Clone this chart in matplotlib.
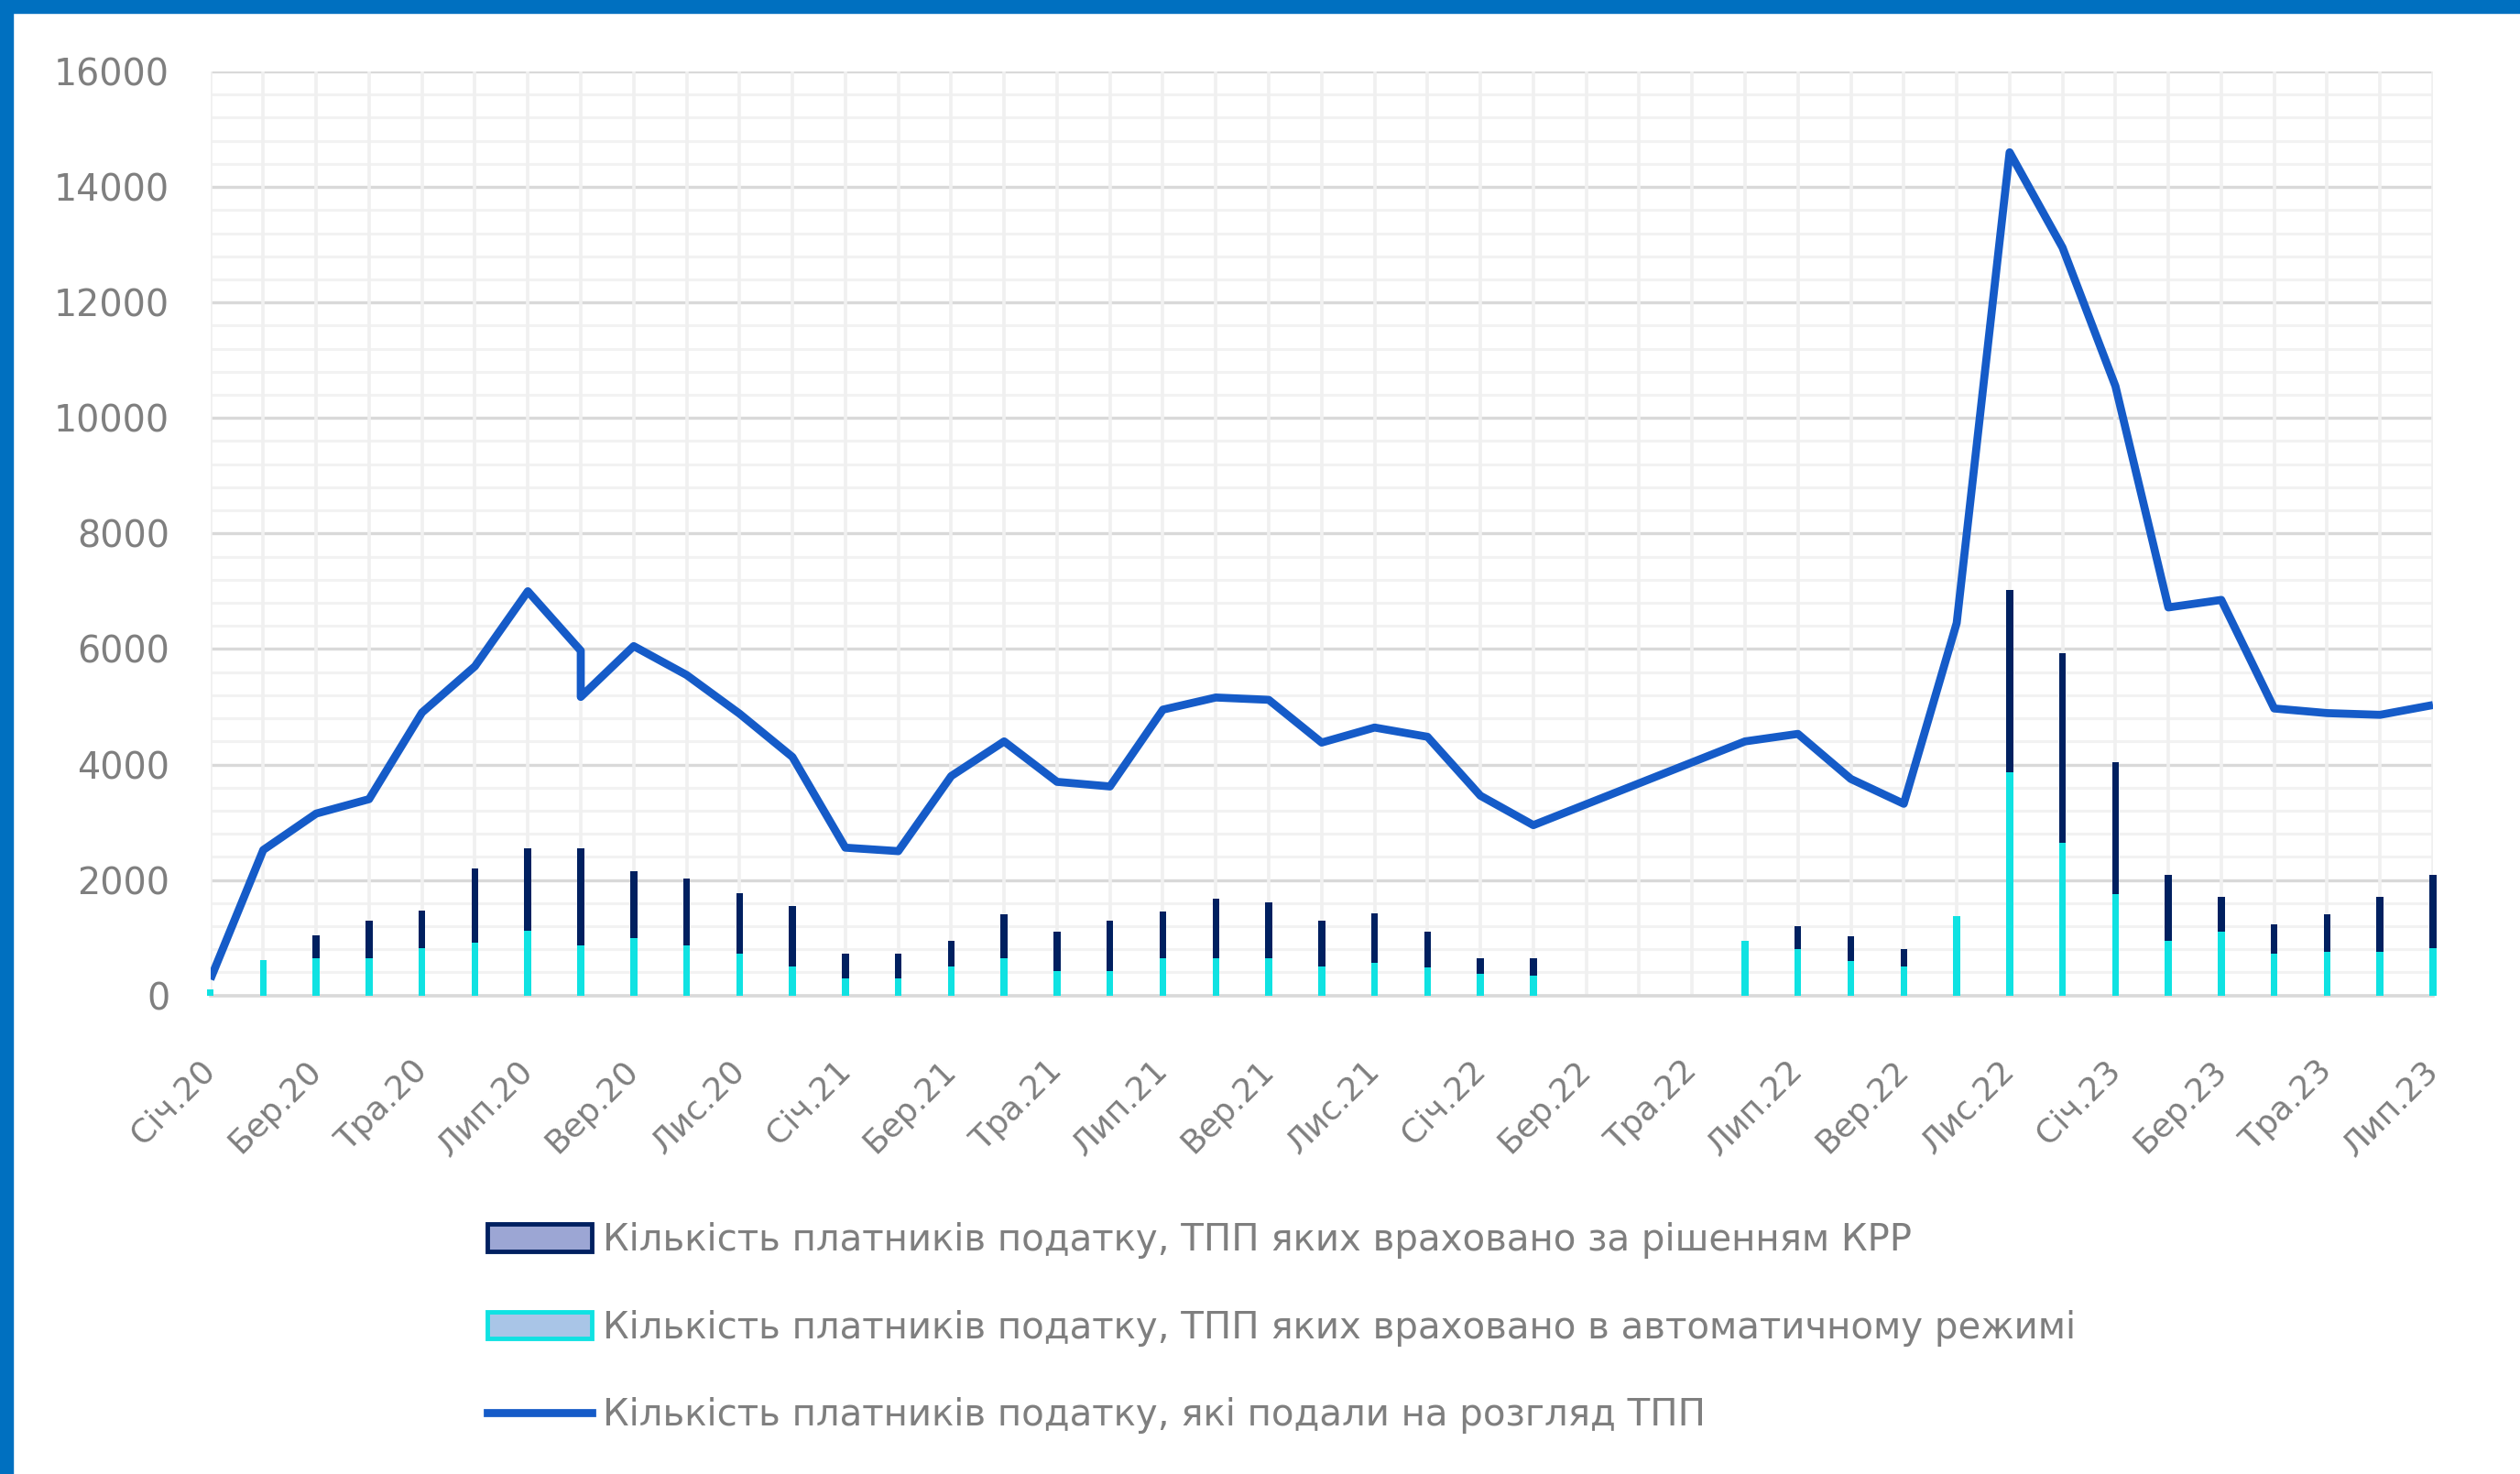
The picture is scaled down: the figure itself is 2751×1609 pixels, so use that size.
import matplotlib
matplotlib.use('Agg')
import matplotlib.pyplot as plt
import matplotlib.patches as mpatches
from matplotlib.lines import Line2D
from matplotlib.ticker import MultipleLocator

plt.rcParams['font.family'] = ['DejaVu Sans']

# ---------------- data ----------------
months = ['Січ.20', 'Лют.20', 'Бер.20', 'Кві.20', 'Тра.20', 'Чер.20', 'Лип.20', 'Сер.20', 'Вер.20', 'Жов.20', 'Лис.20', 'Гру.20',
          'Січ.21', 'Лют.21', 'Бер.21', 'Кві.21', 'Тра.21', 'Чер.21', 'Лип.21', 'Сер.21', 'Вер.21', 'Жов.21', 'Лис.21', 'Гру.21',
          'Січ.22', 'Лют.22', 'Бер.22', 'Кві.22', 'Тра.22', 'Чер.22', 'Лип.22', 'Сер.22', 'Вер.22', 'Жов.22', 'Лис.22', 'Гру.22',
          'Січ.23', 'Лют.23', 'Бер.23', 'Кві.23', 'Тра.23', 'Чер.23', 'Лип.23']

# taxpayers whose TPP was accounted by KRR decision (navy)
krr = [0, 600, 1040, 1300, 1470, 2200, 2550, 2550, 2160, 2030, 1770, 1550,
       720, 720, 940, 1410, 1110, 1290, 1460, 1680, 1620, 1290, 1420, 1110,
       640, 640, 0, 0, 0, 0, 1200, 1030, 810, 1030, 7030, 5920,
       4040, 2090, 1710, 1230, 1400, 1710, 2090]

# taxpayers whose TPP was accounted automatically (cyan)
auto = [100, 610, 650, 650, 820, 910, 1120, 870, 1000, 870, 730, 510,
        300, 300, 510, 650, 430, 430, 650, 650, 650, 510, 570, 480,
        380, 340, 0, 0, 0, 940, 810, 600, 500, 1370, 3870, 2650,
        1750, 940, 1110, 725, 760, 760, 815]

# taxpayers who submitted TPP for consideration (line); two entries fall in Aug 2020
line_months = ['Січ.20', 'Лют.20', 'Бер.20', 'Кві.20', 'Тра.20', 'Чер.20', 'Лип.20', 'Сер.20', 'Сер.20', 'Вер.20',
               'Жов.20', 'Лис.20', 'Гру.20', 'Січ.21', 'Лют.21', 'Бер.21', 'Кві.21', 'Тра.21', 'Чер.21', 'Лип.21',
               'Сер.21', 'Вер.21', 'Жов.21', 'Лис.21', 'Гру.21', 'Січ.22', 'Лют.22', 'Чер.22', 'Лип.22', 'Сер.22',
               'Вер.22', 'Жов.22', 'Лис.22', 'Гру.22', 'Січ.23', 'Лют.23', 'Бер.23', 'Кві.23', 'Тра.23', 'Чер.23', 'Лип.23']
line_values = [280, 2520, 3150, 3400, 4900, 5700, 7000, 5970, 5170, 6050,
               5550, 4880, 4130, 2560, 2500, 3800, 4400, 3700, 3620, 4950,
               5160, 5120, 4380, 4640, 4480, 3460, 2950, 4400, 4530, 3750,
               3320, 6450, 14600, 12950, 10550, 6720, 6850, 4970, 4890, 4860, 5030]

labels = ['Кількість платників податку, ТПП яких враховано за рішенням КРР',
          'Кількість платників податку, ТПП яких враховано в автоматичному режимі',
          'Кількість платників податку, які подали на розгляд ТПП']

# ---------------- style ----------------
NAVY = '#002060'
CYAN = '#10E2E2'
BLUE = '#155BC8'
GRAY_TXT = '#7F7F7F'

W, H = 2751, 1609
fig = plt.figure(figsize=(W / 100, H / 100), dpi=100, facecolor='white')

ax = fig.add_axes([229.6 / W, 1 - 1086.7 / H, (2656 - 229.6) / W, (1086.7 - 78) / H])

x = list(range(len(months)))
ax.bar(x, krr, width=0.13, color=NAVY, zorder=3, clip_on=False)
ax.bar(x, auto, width=0.13, color=CYAN, zorder=4, clip_on=False)

line_x = [months.index(m) for m in line_months]
ax.plot(line_x, line_values, color=BLUE, lw=6.3, zorder=5, solid_joinstyle='round', solid_capstyle='butt')

ax.set_xlim(0, len(months) - 1)
ax.set_ylim(0, 16000)

ax.set_xticks(x[::2])
ax.set_xticklabels(months[::2], rotation=45, ha='right', va='center', rotation_mode='anchor',
                   fontsize=26, color=GRAY_TXT)
ax.set_xticks(x, minor=True)
ax.yaxis.set_major_locator(MultipleLocator(2000))
ax.yaxis.set_minor_locator(MultipleLocator(400))
ax.tick_params(axis='x', which='both', length=0, pad=55)
ax.tick_params(axis='y', which='both', length=0, pad=32, labelsize=28.5, labelcolor=GRAY_TXT)

ax.grid(axis='y', which='major', color='#D9D9D9', lw=2.4)
ax.grid(axis='y', which='minor', color='#F2F2F2', lw=2.2)
ax.grid(axis='x', which='both', color='#F0F0F0', lw=2.6)
ax.set_axisbelow(True)
ax.yaxis.set_zorder(0.4)
ax.xaxis.set_zorder(0.5)

for s in ['top', 'right', 'left']:
    ax.spines[s].set_visible(False)
ax.spines['bottom'].set_color('#D9D9D9')
ax.spines['bottom'].set_linewidth(2.6)
ax.spines['bottom'].set_zorder(2)

# blue frame bands
fig.patches.append(mpatches.Rectangle((0, 1 - 14 / H), 1, 14 / H, transform=fig.transFigure,
                                      color='#0070C0', zorder=0))
fig.patches.append(mpatches.Rectangle((0, 0), 14 / W, 1, transform=fig.transFigure,
                                      color='#0070C0', zorder=0))

handles = [mpatches.Patch(facecolor='#9CA6D4', edgecolor=NAVY, lw=3.5),
           mpatches.Patch(facecolor='#A9C5E7', edgecolor=CYAN, lw=3.5),
           Line2D([], [], color=BLUE, lw=6.3)]
fig.legend(handles, labels, loc='upper left', bbox_to_anchor=(532 / W, 1 - 1334 / H),
           frameon=False, fontsize=29, handlelength=2.83, handleheight=0.75,
           handletextpad=0.3, labelspacing=1.38, borderpad=0, borderaxespad=0,
           labelcolor=GRAY_TXT)

fig.savefig('out.png', dpi=100, facecolor='white')
